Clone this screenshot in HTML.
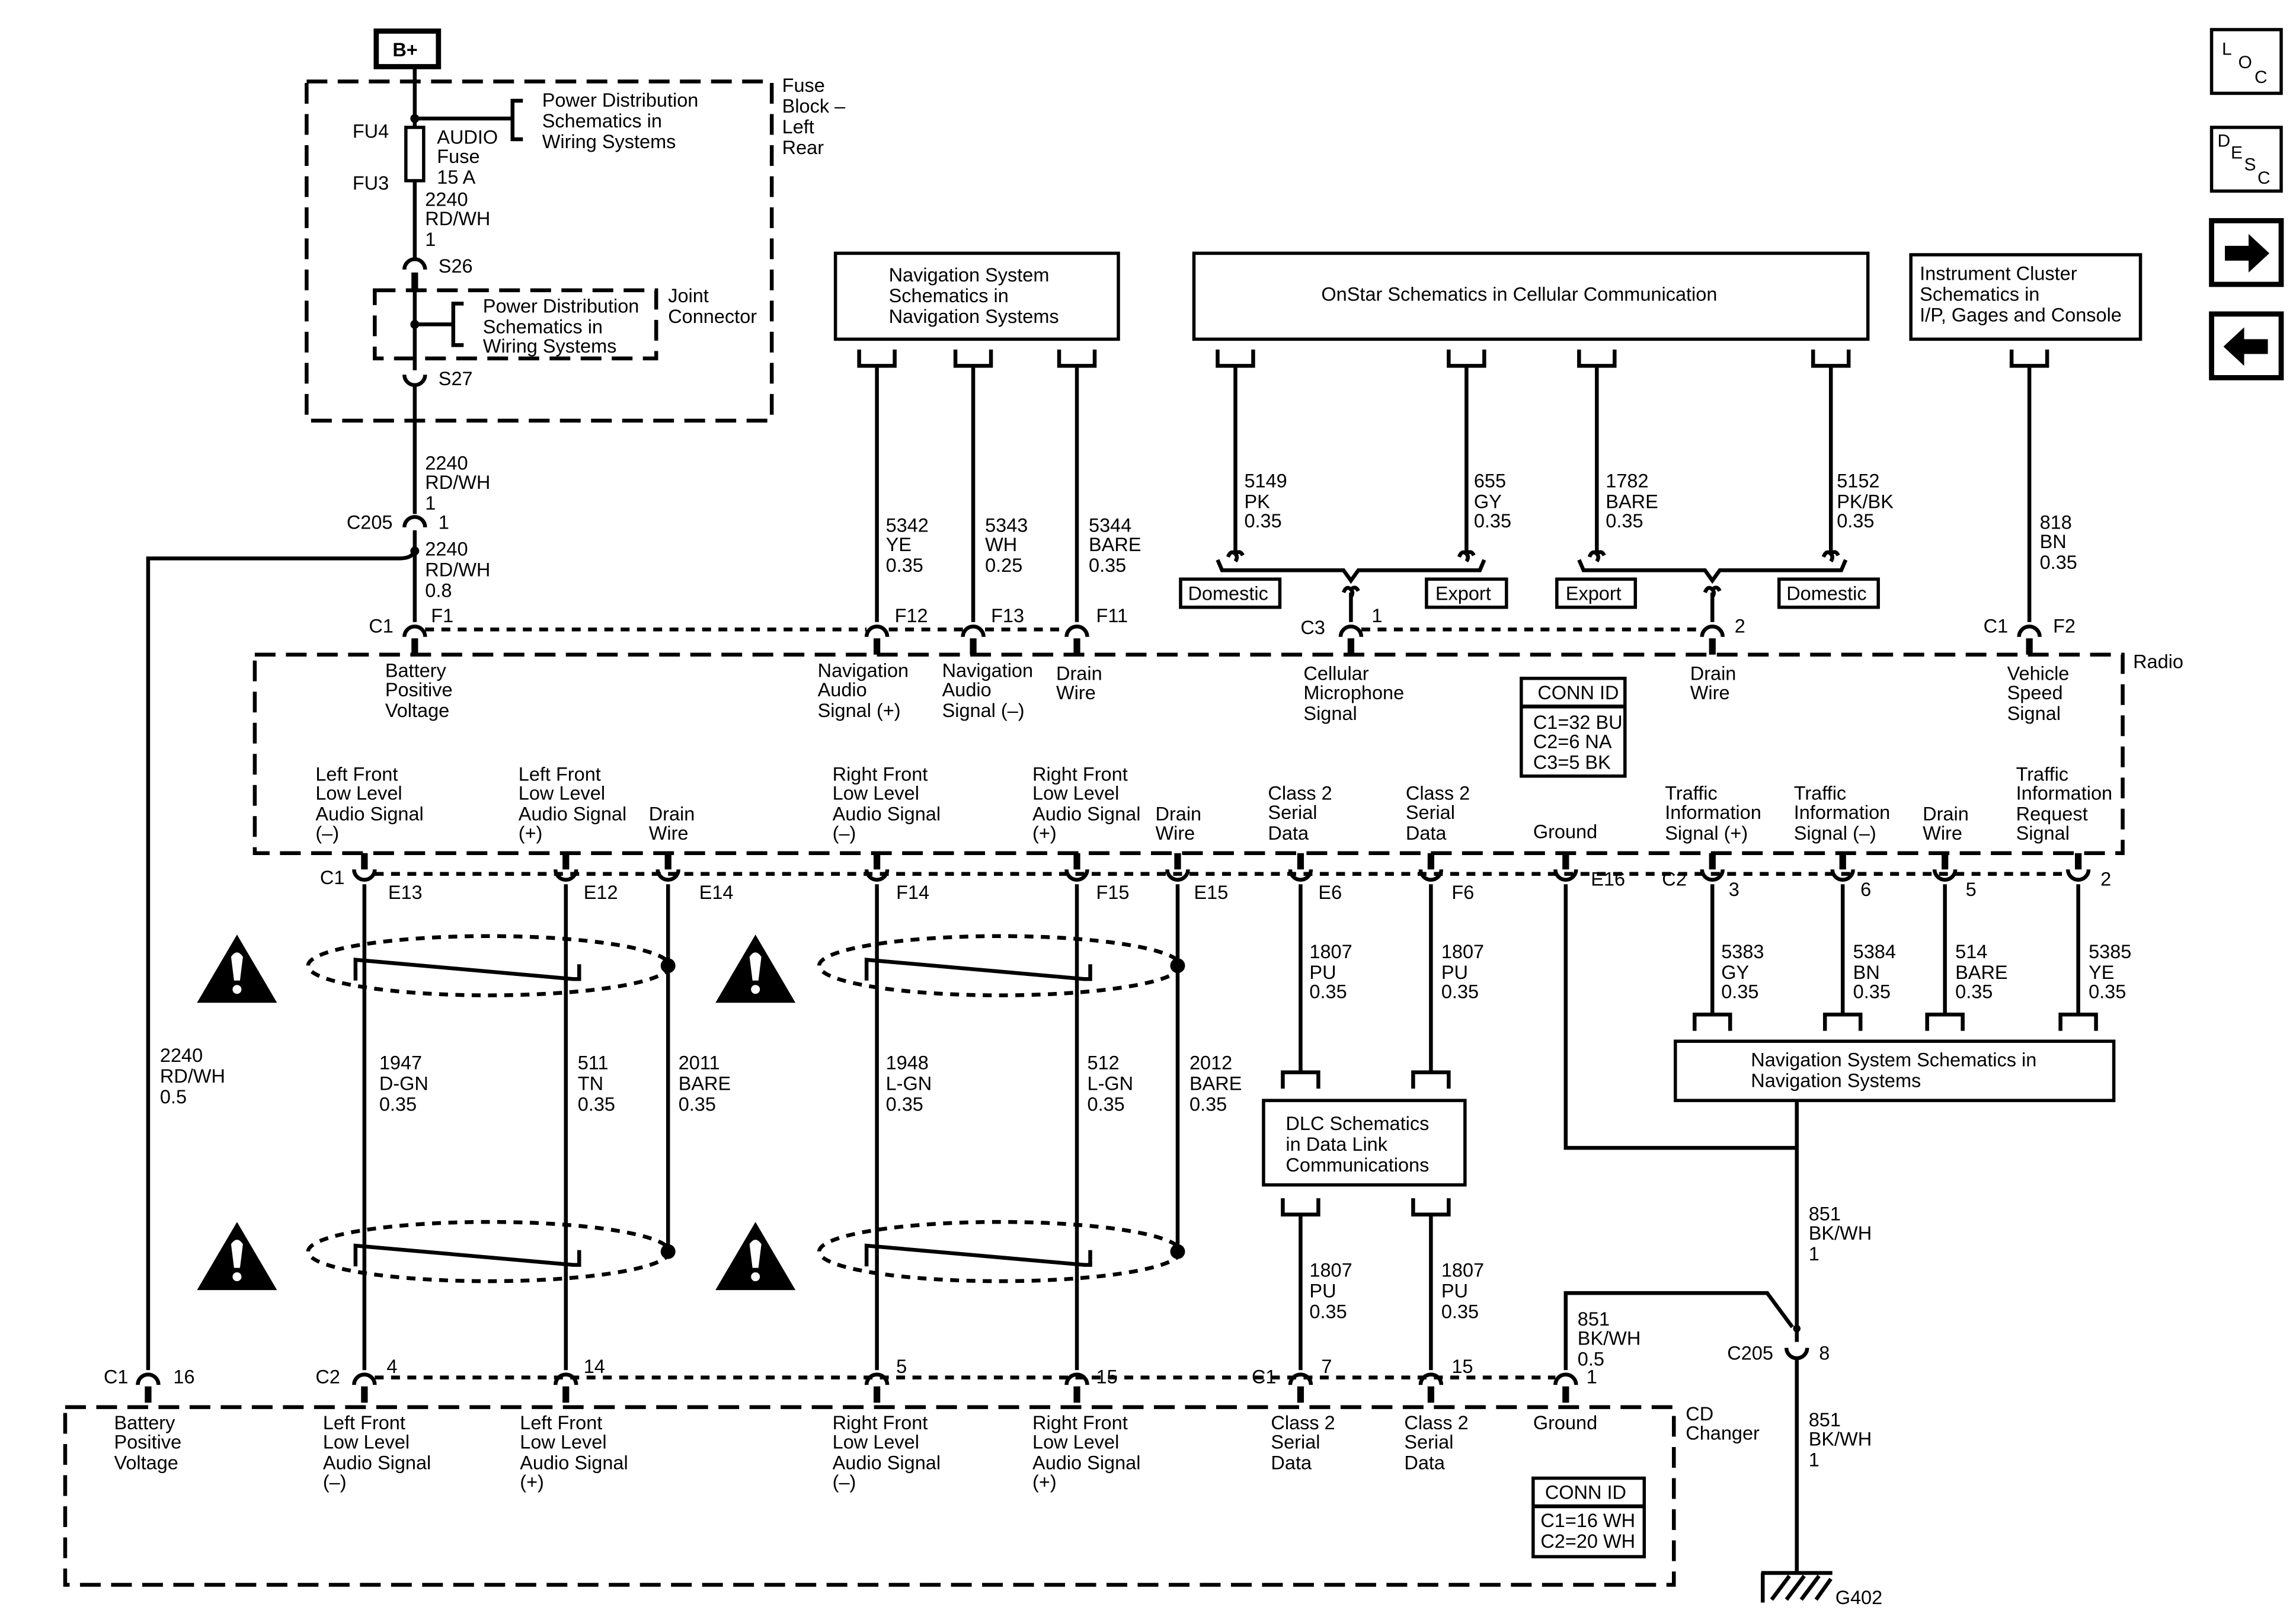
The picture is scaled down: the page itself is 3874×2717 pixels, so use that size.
<!DOCTYPE html>
<html><head><meta charset="utf-8">
<style>
html,body{margin:0;padding:0;background:#fff;}
svg{display:block;}
text{font-family:"Liberation Sans",sans-serif;font-size:13px;fill:#000;}
.w{stroke:#000;stroke-width:2.6;fill:none;}
.d{stroke:#000;stroke-width:2.6;fill:none;stroke-dasharray:14 7;}
.s{stroke:#000;stroke-width:2.6;fill:none;stroke-dasharray:6 5;}
.st{stroke:#000;stroke-width:4.5;fill:none;}
.b{stroke:#000;stroke-width:2.2;fill:#fff;}
</style></head><body>
<svg width="3874" height="2717" viewBox="0 0 1550 1087" preserveAspectRatio="none" xmlns="http://www.w3.org/2000/svg">
<defs>
<g id="tc"><path class="w" d="M-7 5 A7 7 0 0 1 7 5"/><path class="st" d="M0 6 V17"/></g>
<g id="bc"><path class="st" d="M0 -14 V-3"/><path class="w" d="M-7 -3 A7 7 0 0 0 7 -3"/></g>
<g id="brk"><path class="w" d="M-12 0 V11 H12 V0"/></g>
<g id="brku"><path class="w" d="M-12 11 V0 H12 V11"/></g>
<g id="hook"><path class="w" d="M-5 4 Q-3 -1 0 2 Q2 4 0 7 M0 2 Q3 -1 5 3"/></g>
<g id="warn"><path d="M0 -23 L27 23 L-27 23 Z" fill="#000"/><path d="M-4 -8 Q0 -14 4 -8 L2 8 H-2 Z" fill="#fff"/><circle cx="0" cy="14" r="3" fill="#fff"/></g>
</defs>

<rect x="254" y="21" width="42" height="24" fill="#fff" stroke="#000" stroke-width="3.5"/>
<text x="265" y="38" style="font-weight:bold">B+</text>

<rect x="207" y="55" width="314" height="229" class="d"/>
<text x="528" y="62">Fuse</text><text x="528" y="76">Block –</text><text x="528" y="90">Left</text><text x="528" y="104">Rear</text>
<path class="w" d="M280 46 V86 M280 122 V175"/>
<rect x="274" y="86" width="12" height="36" class="b" stroke-width="2.4"/>
<circle cx="280" cy="80" r="3" fill="#000"/>
<path class="w" d="M280 80 H346 M353 68 H346 V94 H353"/>
<text x="366" y="72">Power Distribution</text><text x="366" y="86">Schematics in</text><text x="366" y="100">Wiring Systems</text>
<text x="238" y="93">FU4</text><text x="238" y="128">FU3</text>
<text x="295" y="97">AUDIO</text><text x="295" y="110">Fuse</text><text x="295" y="124">15 A</text>
<text x="287" y="139">2240</text><text x="287" y="152">RD/WH</text><text x="287" y="166">1</text>
<path class="w" d="M273 182 A7 7 0 0 1 287 182"/><text x="296" y="184">S26</text>
<path class="st" d="M280 184 V196"/>
<path class="w" d="M280 196 V250"/>
<rect x="253" y="196" width="190" height="46" class="d"/>
<circle cx="280" cy="219" r="3" fill="#000"/>
<path class="w" d="M280 219 H306 M313 205 H306 V233 H313"/>
<text x="326" y="211">Power Distribution</text><text x="326" y="225">Schematics in</text><text x="326" y="238">Wiring Systems</text>
<text x="451" y="204">Joint</text><text x="451" y="218">Connector</text>
<path class="w" d="M273 253 A7 7 0 0 0 287 253"/><text x="296" y="260">S27</text>
<path class="w" d="M280 260 V347"/>
<text x="287" y="317">2240</text><text x="287" y="330">RD/WH</text><text x="287" y="344">1</text>
<path class="w" d="M273 356 A7 7 0 0 1 287 356"/>
<text x="234" y="357">C205</text><text x="296" y="357">1</text>
<path class="w" d="M280 358 V420"/>
<circle cx="280" cy="372" r="3" fill="#000"/>
<path class="w" d="M280 372 Q278 377 270 377 H100 V925"/>
<text x="287" y="375">2240</text><text x="287" y="389">RD/WH</text><text x="287" y="403">0.8</text>
<text x="108" y="717">2240</text><text x="108" y="731">RD/WH</text><text x="108" y="745">0.5</text>

<rect x="564" y="171" width="191" height="58" class="b"/>
<text x="600" y="190">Navigation System</text><text x="600" y="204">Schematics in</text><text x="600" y="218">Navigation Systems</text>
<use href="#brk" x="592" y="236"/><use href="#brk" x="657" y="236"/><use href="#brk" x="727" y="236"/>
<path class="w" d="M592 247 V420 M657 247 V420 M727 247 V420"/>
<text x="598" y="359">5342</text><text x="598" y="372">YE</text><text x="598" y="386">0.35</text>
<text x="665" y="359">5343</text><text x="665" y="372">WH</text><text x="665" y="386">0.25</text>
<text x="735" y="359">5344</text><text x="735" y="372">BARE</text><text x="735" y="386">0.35</text>

<rect x="806" y="171" width="455" height="58" class="b"/>
<text x="892" y="203">OnStar Schematics in Cellular Communication</text>
<use href="#brk" x="834" y="236"/><use href="#brk" x="990" y="236"/><use href="#brk" x="1078" y="236"/><use href="#brk" x="1236" y="236"/>
<path class="w" d="M834 247 V374 M990 247 V374 M1078 247 V374 M1236 247 V374"/>
<use href="#hook" x="834" y="372"/><use href="#hook" x="990" y="372"/><use href="#hook" x="1078" y="372"/><use href="#hook" x="1236" y="372"/>
<text x="840" y="329">5149</text><text x="840" y="343">PK</text><text x="840" y="356">0.35</text>
<text x="995" y="329">655</text><text x="995" y="343">GY</text><text x="995" y="356">0.35</text>
<text x="1084" y="329">1782</text><text x="1084" y="343">BARE</text><text x="1084" y="356">0.35</text>
<text x="1240" y="329">5152</text><text x="1240" y="343">PK/BK</text><text x="1240" y="356">0.35</text>
<path class="w" d="M822 378 L825 385 H907 L912 392 L917 385 H999 L1002 378"/>
<path class="w" d="M1066 378 L1069 385 H1151 L1156 392 L1161 385 H1243 L1246 378"/>
<use href="#hook" x="912" y="396"/><use href="#hook" x="1156" y="396"/>
<path class="w" d="M912 400 V420 M1156 400 V420"/>
<rect x="797" y="391" width="67" height="19" class="b"/><text x="802" y="405">Domestic</text>
<rect x="963" y="391" width="54" height="19" class="b"/><text x="969" y="405">Export</text>
<rect x="1051" y="391" width="53" height="19" class="b"/><text x="1057" y="405">Export</text>
<rect x="1201" y="391" width="67" height="19" class="b"/><text x="1206" y="405">Domestic</text>

<rect x="1290" y="172" width="155" height="57" class="b"/>
<text x="1296" y="189">Instrument Cluster</text><text x="1296" y="203">Schematics in</text><text x="1296" y="217">I/P, Gages and Console</text>
<use href="#brk" x="1370" y="236"/>
<path class="w" d="M1370 247 V420"/>
<text x="1377" y="357">818</text><text x="1377" y="370">BN</text><text x="1377" y="384">0.35</text>

<path class="s" d="M287 425 H585 M600 425 H650 M665 425 H720 M919 425 H1149"/>
<use href="#tc" x="280" y="425"/><use href="#tc" x="592" y="425"/><use href="#tc" x="657" y="425"/><use href="#tc" x="727" y="425"/>
<use href="#tc" x="912" y="425"/><use href="#tc" x="1156" y="425"/><use href="#tc" x="1370" y="425"/>
<text x="249" y="427">C1</text><text x="291" y="420">F1</text>
<text x="604" y="420">F12</text><text x="669" y="420">F13</text><text x="740" y="420">F11</text>
<text x="878" y="428">C3</text><text x="926" y="420">1</text><text x="1171" y="427">2</text>
<text x="1339" y="427">C1</text><text x="1386" y="427">F2</text>

<rect x="172" y="442" width="1261" height="134" class="d"/>
<text x="1440" y="451">Radio</text>
<text x="260" y="457">Battery</text><text x="260" y="470">Positive</text><text x="260" y="484">Voltage</text>
<text x="552" y="457">Navigation</text><text x="552" y="470">Audio</text><text x="552" y="484">Signal (+)</text>
<text x="636" y="457">Navigation</text><text x="636" y="470">Audio</text><text x="636" y="484">Signal (–)</text>
<text x="713" y="459">Drain</text><text x="713" y="472">Wire</text>
<text x="880" y="459">Cellular</text><text x="880" y="472">Microphone</text><text x="880" y="486">Signal</text>
<text x="1141" y="459">Drain</text><text x="1141" y="472">Wire</text>
<text x="1355" y="459">Vehicle</text><text x="1355" y="472">Speed</text><text x="1355" y="486">Signal</text>
<rect x="1027" y="458" width="70" height="66" class="b" stroke-width="2"/>
<path class="w" d="M1027 477 H1097" stroke-width="2"/>
<text x="1038" y="472">CONN ID</text><text x="1035" y="492">C1=32 BU</text><text x="1035" y="505">C2=6 NA</text><text x="1035" y="519">C3=5 BK</text>

<text x="213" y="527">Left Front</text><text x="213" y="540">Low Level</text><text x="213" y="554">Audio Signal</text><text x="213" y="567">(–)</text>
<text x="350" y="527">Left Front</text><text x="350" y="540">Low Level</text><text x="350" y="554">Audio Signal</text><text x="350" y="567">(+)</text>
<text x="438" y="554">Drain</text><text x="438" y="567">Wire</text>
<text x="562" y="527">Right Front</text><text x="562" y="540">Low Level</text><text x="562" y="554">Audio Signal</text><text x="562" y="567">(–)</text>
<text x="697" y="527">Right Front</text><text x="697" y="540">Low Level</text><text x="697" y="554">Audio Signal</text><text x="697" y="567">(+)</text>
<text x="780" y="554">Drain</text><text x="780" y="567">Wire</text>
<text x="856" y="540">Class 2</text><text x="856" y="553">Serial</text><text x="856" y="567">Data</text>
<text x="949" y="540">Class 2</text><text x="949" y="553">Serial</text><text x="949" y="567">Data</text>
<text x="1035" y="566">Ground</text>
<text x="1124" y="540">Traffic</text><text x="1124" y="553">Information</text><text x="1124" y="567">Signal (+)</text>
<text x="1211" y="540">Traffic</text><text x="1211" y="553">Information</text><text x="1211" y="567">Signal (–)</text>
<text x="1298" y="554">Drain</text><text x="1298" y="567">Wire</text>
<text x="1361" y="527">Traffic</text><text x="1361" y="540">Information</text><text x="1361" y="554">Request</text><text x="1361" y="567">Signal</text>

<path class="s" d="M253 590 H1396"/>
<g>
<use href="#bc" x="246" y="590"/><use href="#bc" x="382" y="590"/><use href="#bc" x="451" y="590"/>
<use href="#bc" x="592" y="590"/><use href="#bc" x="727" y="590"/><use href="#bc" x="795" y="590"/>
<use href="#bc" x="878" y="590"/><use href="#bc" x="966" y="590"/><use href="#bc" x="1057" y="590"/>
<use href="#bc" x="1156" y="590"/><use href="#bc" x="1244" y="590"/><use href="#bc" x="1313" y="590"/><use href="#bc" x="1403" y="590"/>
</g>
<text x="216" y="597">C1</text><text x="262" y="607">E13</text><text x="394" y="607">E12</text><text x="472" y="607">E14</text>
<text x="605" y="607">F14</text><text x="740" y="607">F15</text><text x="806" y="607">E15</text>
<text x="890" y="607">E6</text><text x="980" y="607">F6</text><text x="1074" y="598">E16</text>
<text x="1122" y="598">C2</text><text x="1167" y="605">3</text><text x="1256" y="605">6</text><text x="1327" y="605">5</text><text x="1418" y="598">2</text>

<path class="w" d="M246 597 V925 M382 597 V925 M451 597 V845 M592 597 V925 M727 597 V925 M795 597 V845"/>
<g>
<ellipse cx="330" cy="652" rx="122" ry="20" class="s"/>
<ellipse cx="330" cy="845" rx="122" ry="20" class="s"/>
<ellipse cx="675" cy="652" rx="122" ry="20" class="s"/>
<ellipse cx="675" cy="845" rx="122" ry="20" class="s"/>
<path class="w" d="M240 662 V648 L387 661 H391 V651"/>
<path class="w" d="M240 855 V841 L387 854 H391 V844"/>
<path class="w" d="M585 662 V648 L732 661 H736 V651"/>
<path class="w" d="M585 855 V841 L732 854 H736 V844"/>
<circle cx="451" cy="652" r="5" fill="#000"/><circle cx="451" cy="845" r="5" fill="#000"/>
<circle cx="795" cy="652" r="5" fill="#000"/><circle cx="795" cy="845" r="5" fill="#000"/>
</g>
<use href="#warn" x="160" y="654"/><use href="#warn" x="160" y="848"/>
<use href="#warn" x="510" y="654"/><use href="#warn" x="510" y="848"/>
<text x="256" y="722">1947</text><text x="256" y="736">D-GN</text><text x="256" y="750">0.35</text>
<text x="390" y="722">511</text><text x="390" y="736">TN</text><text x="390" y="750">0.35</text>
<text x="458" y="722">2011</text><text x="458" y="736">BARE</text><text x="458" y="750">0.35</text>
<text x="598" y="722">1948</text><text x="598" y="736">L-GN</text><text x="598" y="750">0.35</text>
<text x="734" y="722">512</text><text x="734" y="736">L-GN</text><text x="734" y="750">0.35</text>
<text x="803" y="722">2012</text><text x="803" y="736">BARE</text><text x="803" y="750">0.35</text>

<path class="w" d="M878 597 V724 M966 597 V724"/>
<use href="#brku" x="878" y="724"/><use href="#brku" x="966" y="724"/>
<rect x="853" y="743" width="136" height="57" class="b"/>
<text x="868" y="763">DLC Schematics</text><text x="868" y="777">in Data Link</text><text x="868" y="791">Communications</text>
<use href="#brk" x="878" y="809"/><use href="#brk" x="966" y="809"/>
<path class="w" d="M878 820 V925 M966 820 V925"/>
<text x="884" y="647">1807</text><text x="884" y="661">PU</text><text x="884" y="674">0.35</text>
<text x="973" y="647">1807</text><text x="973" y="661">PU</text><text x="973" y="674">0.35</text>
<text x="884" y="862">1807</text><text x="884" y="876">PU</text><text x="884" y="890">0.35</text>
<text x="973" y="862">1807</text><text x="973" y="876">PU</text><text x="973" y="890">0.35</text>

<path class="w" d="M1057 597 V775 H1213"/>
<path class="w" d="M1156 597 V685 M1244 597 V685 M1313 597 V685 M1403 597 V685"/>
<use href="#brku" x="1156" y="685"/><use href="#brku" x="1244" y="685"/><use href="#brku" x="1313" y="685"/><use href="#brku" x="1403" y="685"/>
<rect x="1131" y="703" width="296" height="40" class="b"/>
<text x="1182" y="720">Navigation System Schematics in</text><text x="1182" y="734">Navigation Systems</text>
<text x="1162" y="647">5383</text><text x="1162" y="661">GY</text><text x="1162" y="674">0.35</text>
<text x="1251" y="647">5384</text><text x="1251" y="661">BN</text><text x="1251" y="674">0.35</text>
<text x="1320" y="647">514</text><text x="1320" y="661">BARE</text><text x="1320" y="674">0.35</text>
<text x="1410" y="647">5385</text><text x="1410" y="661">YE</text><text x="1410" y="674">0.35</text>
<path class="w" d="M1213 743 V906"/>
<text x="1221" y="824">851</text><text x="1221" y="837">BK/WH</text><text x="1221" y="851">1</text>
<path class="w" d="M1057 925 V873 H1193 L1210 896"/>
<circle cx="1213" cy="897" r="2.5" fill="#000"/>
<text x="1065" y="895">851</text><text x="1065" y="908">BK/WH</text><text x="1065" y="922">0.5</text>
<path class="w" d="M1206 910 A7 7 0 0 0 1220 910"/>
<text x="1166" y="918">C205</text><text x="1228" y="918">8</text>
<path class="w" d="M1213 917 V1062"/>
<text x="1221" y="963">851</text><text x="1221" y="976">BK/WH</text><text x="1221" y="990">1</text>
<path class="w" d="M1189 1062 H1237 M1190 1062 V1082 M1196 1080 L1208 1064 M1206 1080 L1218 1064 M1216 1080 L1228 1064 M1226 1080 L1236 1066"/>
<text x="1239" y="1083">G402</text>

<path class="s" d="M253 930 H1050"/>
<use href="#tc" x="100" y="930"/><use href="#tc" x="246" y="930"/><use href="#tc" x="382" y="930"/><use href="#tc" x="592" y="930"/>
<use href="#tc" x="727" y="930"/><use href="#tc" x="878" y="930"/><use href="#tc" x="966" y="930"/><use href="#tc" x="1057" y="930"/>
<text x="70" y="934">C1</text><text x="117" y="934">16</text><text x="213" y="934">C2</text><text x="261" y="927">4</text>
<text x="394" y="927">14</text><text x="605" y="927">5</text><text x="740" y="934">15</text>
<text x="845" y="934">C1</text><text x="892" y="927">7</text><text x="980" y="927">15</text><text x="1071" y="934">1</text>

<rect x="44" y="950" width="1086" height="120" class="d"/>
<text x="1138" y="959">CD</text><text x="1138" y="972">Changer</text>
<text x="77" y="965">Battery</text><text x="77" y="978">Positive</text><text x="77" y="992">Voltage</text>
<text x="218" y="965">Left Front</text><text x="218" y="978">Low Level</text><text x="218" y="992">Audio Signal</text><text x="218" y="1005">(–)</text>
<text x="351" y="965">Left Front</text><text x="351" y="978">Low Level</text><text x="351" y="992">Audio Signal</text><text x="351" y="1005">(+)</text>
<text x="562" y="965">Right Front</text><text x="562" y="978">Low Level</text><text x="562" y="992">Audio Signal</text><text x="562" y="1005">(–)</text>
<text x="697" y="965">Right Front</text><text x="697" y="978">Low Level</text><text x="697" y="992">Audio Signal</text><text x="697" y="1005">(+)</text>
<text x="858" y="965">Class 2</text><text x="858" y="978">Serial</text><text x="858" y="992">Data</text>
<text x="948" y="965">Class 2</text><text x="948" y="978">Serial</text><text x="948" y="992">Data</text>
<text x="1035" y="965">Ground</text>
<rect x="1035" y="998" width="75" height="53" class="b" stroke-width="2"/>
<path class="w" d="M1035 1017 H1110" stroke-width="2"/>
<text x="1043" y="1012">CONN ID</text><text x="1040" y="1031">C1=16 WH</text><text x="1040" y="1045">C2=20 WH</text>

<rect x="1493" y="20" width="47" height="43" class="b"/>
<text x="1500" y="37" style="font-size:12px">L</text><text x="1511" y="46" style="font-size:12px">O</text><text x="1522" y="56" style="font-size:12px">C</text>
<rect x="1493" y="86" width="47" height="43" class="b"/>
<text x="1497" y="99" style="font-size:12px">D</text><text x="1506" y="107" style="font-size:12px">E</text><text x="1515" y="115" style="font-size:12px">S</text><text x="1524" y="124" style="font-size:12px">C</text>
<rect x="1493" y="149" width="47" height="43" fill="#fff" stroke="#000" stroke-width="3.5"/>
<path d="M1502 166 H1518 V158 L1532 171 L1518 184 V176 H1502 Z" fill="#000"/>
<rect x="1493" y="212" width="47" height="43" fill="#fff" stroke="#000" stroke-width="3.5"/>
<path d="M1531 229 H1515 V221 L1501 234 L1515 247 V239 H1531 Z" fill="#000"/>
</svg>
</body></html>
